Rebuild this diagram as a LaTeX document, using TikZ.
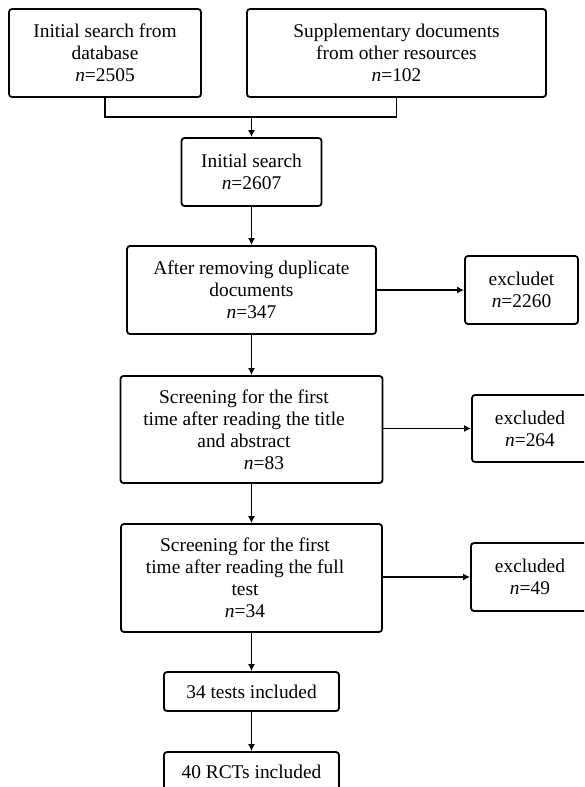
\documentclass[tikz,border=0pt]{standalone}
\usepackage{fontspec}
\setmainfont{Liberation Serif}
\usetikzlibrary{arrows.meta}
\tikzset{
  fbox/.style={draw, line width=1.8pt, rounded corners=3pt, inner sep=0pt,
    align=center, font=\fontsize{19.4}{22}\selectfont},
  link/.style={line width=1.8pt},
  arr/.style={line width=1.8pt, -{Latex[length=7pt,width=7pt]}}
}
\begin{document}
\begin{tikzpicture}[x=1pt,y=1pt]
\useasboundingbox (0,0) rectangle (584,-787);
\clip (0,0) rectangle (584,-787);
\fill[white] (0,0) rectangle (584,-787);
\node[fbox, minimum width=192, minimum height=88] (A) at (105,-53)
  {Initial search from\\database\\\textit{n}=2505};
\node[fbox, minimum width=299, minimum height=88] (B) at (396.5,-53)
  {Supplementary documents\\from other resources\\\textit{n}=102};
\node[fbox, minimum width=140, minimum height=68] (C) at (251.5,-172)
  {Initial search\\\textit{n}=2607};
\node[fbox, minimum width=249, minimum height=88] (D) at (251.5,-290)
  {After removing duplicate\\documents\\\textit{n}=347};
\node[fbox, minimum width=113, minimum height=68] (E) at (521.5,-290)
  {excludet\\\textit{n}=2260};
\node[fbox, minimum width=262, minimum height=107] (F) at (251.5,-429.5)
  {Screening for the first\kern15pt\\time after reading the title\kern15pt\\and abstract\kern15pt\\\kern25pt\textit{n}=83};
\node[fbox, minimum width=116, minimum height=67] (K) at (530,-428.5)
  {excluded\\\textit{n}=264};
\node[fbox, minimum width=261, minimum height=108] (G) at (251.5,-578)
  {Screening for the first\kern13pt\\time after reading the full\kern13pt\\test\kern13pt\\\textit{n}=34\kern13pt};
\node[fbox, minimum width=118, minimum height=68] (H) at (530,-577)
  {excluded\\\textit{n}=49};
\node[fbox, minimum width=175, minimum height=39] (I) at (251.5,-691.5)
  {34 tests included};
\node[fbox, minimum width=175, minimum height=39] (J) at (251.5,-771.5)
  {40 RCTs included};
\coordinate (j) at (251.5,-117);
\draw[link] (A.south) |- (j);
\draw[link] (B.south) |- (j);
\draw[arr] (j) -- (C.north);
\draw[arr] (C) -- (D);
\draw[arr] (D) -- (E);
\draw[arr] (D) -- (F);
\draw[arr] (F.east |- K.west) -- (K.west);
\draw[arr] (F) -- (G);
\draw[arr] (G.east |- H.west) -- (H.west);
\draw[arr] (G) -- (I);
\draw[arr] (I) -- (J);
\end{tikzpicture}
\end{document}
